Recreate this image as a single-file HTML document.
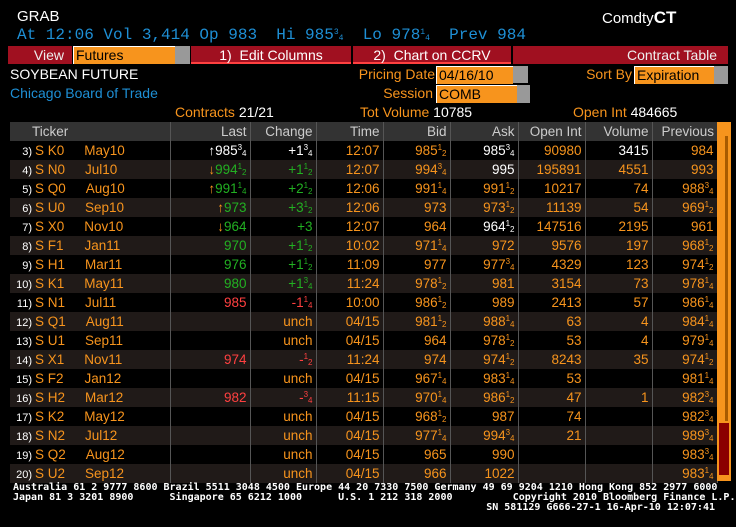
<!DOCTYPE html>
<html><head><meta charset="utf-8"><style>
*{margin:0;padding:0;box-sizing:border-box}
body{width:736px;height:527px;background:#000;overflow:hidden;position:relative;font-family:"Liberation Sans",sans-serif;font-size:13px;color:#f7941d}
.a{position:absolute;white-space:nowrap}
.w{color:#fff}.bl{color:#1e8fd5}.g{color:#22b022}.r{color:#ff4040}
i{font-style:normal;font-size:8px;vertical-align:5px}
b{font-weight:normal;font-size:8px;vertical-align:-1px}
.bar{position:absolute;top:46px;height:18px;background:#a01020;color:#eee;font-size:14px;line-height:18px}
.inp{position:absolute;background:#f7941d;color:#000;font-size:14px;line-height:17px;padding-left:2px;border-top:1px solid #fff;border-left:1px solid #fff}
.gr{position:absolute;background:#999}
table{position:absolute;left:10px;top:122px;border-collapse:collapse;table-layout:fixed;width:707px}
td,th{height:19px;padding:0 3px 0 0;text-align:right;font-size:13.5px;font-weight:normal;border-right:1px solid #555;white-space:nowrap;overflow:hidden}
th{background:#333;color:#ccc;font-size:13.5px}
tr:nth-child(odd) td{background:#201a18}
td.t{text-align:left;padding:0}
.n{display:inline-block;width:22px;text-align:right;color:#fff;font-size:11px;margin-right:3px}
.m{position:relative;left:0;display:inline-block;width:48px}
.ft{font-family:'DejaVu Sans Mono','Liberation Mono',monospace;font-size:10px;line-height:10px;white-space:pre;font-weight:bold}
</style></head><body>
<div class="a w" style="left:17px;top:8px;font-size:15px">GRAB</div>
<div class="a w" style="left:602px;top:8px;font-size:15px">Comdty<span style="font-weight:bold;font-size:17px">CT</span></div>
<div class="a bl" style="left:17px;top:26px;font-family:'Liberation Mono',monospace;font-size:16px;white-space:pre">At 12:06 Vol 3,414 Op 983  Hi 985<i>3</i><b>4</b>  Lo 978<i>1</i><b>4</b>  Prev 984</div>
<div class="bar" style="left:8px;width:64px;text-align:right;padding-right:8px">View</div>
<div class="inp" style="left:73px;top:46px;width:102px;height:18px">Futures</div>
<div class="gr" style="left:175px;top:46px;width:15px;height:18px"></div>
<div class="bar" style="left:191px;width:160px;text-align:center;border-bottom:2px solid #ff4040;color:#fff">1)&nbsp; Edit Columns</div>
<div class="bar" style="left:353px;width:158px;text-align:center;border-bottom:2px solid #ff4040;color:#fff">2)&nbsp; Chart on CCRV</div>
<div class="bar" style="left:513px;width:215px;text-align:right;padding-right:11px">Contract Table</div>
<div class="a w" style="left:10px;top:66px;font-size:14px">SOYBEAN FUTURE</div>
<div class="a bl" style="left:10px;top:85px;font-size:14px">Chicago Board of Trade</div>
<div class="a" style="right:301px;top:66px;font-size:14px">Pricing Date</div>
<div class="inp" style="left:436px;top:66px;width:77px;height:18px">04/16/10</div>
<div class="gr" style="left:513px;top:66px;width:15px;height:17px"></div>
<div class="a" style="right:303px;top:85px;font-size:14px">Session</div>
<div class="inp" style="left:436px;top:85px;width:81px;height:18px">COMB</div>
<div class="gr" style="left:517px;top:85px;width:13px;height:18px"></div>
<div class="a" style="right:104px;top:66px;font-size:14px">Sort By</div>
<div class="inp" style="left:634px;top:66px;width:80px;height:18px">Expiration</div>
<div class="gr" style="left:714px;top:66px;width:14px;height:18px"></div>
<div class="a" style="left:175px;top:104px;font-size:14px">Contracts <span class="w">21/21</span></div>
<div class="a" style="left:360px;top:104px;font-size:14px">Tot Volume <span class="w">10785</span></div>
<div class="a" style="left:573px;top:104px;font-size:14px">Open Int <span class="w">484665</span></div>

<table>
<colgroup><col style="width:160px"><col style="width:80px"><col style="width:66px"><col style="width:67px"><col style="width:67px"><col style="width:68px"><col style="width:67px"><col style="width:67px"><col style="width:65px"></colgroup>
<tr style="background:#333"><th style="text-align:left;padding-left:22px">Ticker</th><th>Last</th><th>Change</th><th>Time</th><th>Bid</th><th>Ask</th><th>Open Int</th><th>Volume</th><th style="border-right:none">Previous</th></tr>
<tr><td class="t"><span class="n">3)</span>S K0<span class="m" style="margin-left:20px">May10</span></td><td class="w">↑985<i>3</i><b>4</b></td><td class="w">+1<i>3</i><b>4</b></td><td>12:07</td><td>985<i>1</i><b>2</b></td><td class="w">985<i>3</i><b>4</b></td><td>90980</td><td class="w">3415</td><td>984</td></tr>
<tr><td class="t"><span class="n">4)</span>S N0<span class="m" style="margin-left:20px">Jul10</span></td><td class="g"><span style="color:#f7941d">↓</span>994<i>1</i><b>2</b></td><td class="g">+1<i>1</i><b>2</b></td><td>12:07</td><td>994<i>3</i><b>4</b></td><td class="w">995</td><td>195891</td><td>4551</td><td>993</td></tr>
<tr><td class="t"><span class="n">5)</span>S Q0<span class="m" style="margin-left:20px">Aug10</span></td><td class="g"><span style="color:#f7941d">↑</span>991<i>1</i><b>4</b></td><td class="g">+2<i>1</i><b>2</b></td><td>12:06</td><td>991<i>1</i><b>4</b></td><td>991<i>1</i><b>2</b></td><td>10217</td><td>74</td><td>988<i>3</i><b>4</b></td></tr>
<tr><td class="t"><span class="n">6)</span>S U0<span class="m" style="margin-left:20px">Sep10</span></td><td class="g"><span style="color:#f7941d">↑</span>973</td><td class="g">+3<i>1</i><b>2</b></td><td>12:06</td><td>973</td><td>973<i>1</i><b>2</b></td><td>11139</td><td>54</td><td>969<i>1</i><b>2</b></td></tr>
<tr><td class="t"><span class="n">7)</span>S X0<span class="m" style="margin-left:20px">Nov10</span></td><td class="g"><span style="color:#f7941d">↓</span>964</td><td class="g">+3</td><td>12:07</td><td>964</td><td class="w">964<i>1</i><b>2</b></td><td>147516</td><td>2195</td><td>961</td></tr>
<tr><td class="t"><span class="n">8)</span>S F1<span class="m" style="margin-left:21px">Jan11</span></td><td class="g">970</td><td class="g">+1<i>1</i><b>2</b></td><td>10:02</td><td>971<i>1</i><b>4</b></td><td>972</td><td>9576</td><td>197</td><td>968<i>1</i><b>2</b></td></tr>
<tr><td class="t"><span class="n">9)</span>S H1<span class="m" style="margin-left:20px">Mar11</span></td><td class="g">976</td><td class="g">+1<i>1</i><b>2</b></td><td>11:09</td><td>977</td><td>977<i>3</i><b>4</b></td><td>4329</td><td>123</td><td>974<i>1</i><b>2</b></td></tr>
<tr><td class="t"><span class="n">10)</span>S K1<span class="m" style="margin-left:20px">May11</span></td><td class="g">980</td><td class="g">+1<i>3</i><b>4</b></td><td>11:24</td><td>978<i>1</i><b>2</b></td><td>981</td><td>3154</td><td>73</td><td>978<i>1</i><b>4</b></td></tr>
<tr><td class="t"><span class="n">11)</span>S N1<span class="m" style="margin-left:20px">Jul11</span></td><td class="r">985</td><td class="r">-1<i>1</i><b>4</b></td><td>10:00</td><td>986<i>1</i><b>2</b></td><td>989</td><td>2413</td><td>57</td><td>986<i>1</i><b>4</b></td></tr>
<tr><td class="t"><span class="n">12)</span>S Q1<span class="m" style="margin-left:20px">Aug11</span></td><td></td><td>unch</td><td>04/15</td><td>981<i>1</i><b>2</b></td><td>988<i>1</i><b>4</b></td><td>63</td><td>4</td><td>984<i>1</i><b>4</b></td></tr>
<tr><td class="t"><span class="n">13)</span>S U1<span class="m" style="margin-left:20px">Sep11</span></td><td></td><td>unch</td><td>04/15</td><td>964</td><td>978<i>1</i><b>2</b></td><td>53</td><td>4</td><td>979<i>1</i><b>4</b></td></tr>
<tr><td class="t"><span class="n">14)</span>S X1<span class="m" style="margin-left:20px">Nov11</span></td><td class="r">974</td><td class="r">-<i>1</i><b>2</b></td><td>11:24</td><td>974</td><td>974<i>1</i><b>2</b></td><td>8243</td><td>35</td><td>974<i>1</i><b>2</b></td></tr>
<tr><td class="t"><span class="n">15)</span>S F2<span class="m" style="margin-left:21px">Jan12</span></td><td></td><td>unch</td><td>04/15</td><td>967<i>1</i><b>4</b></td><td>983<i>1</i><b>4</b></td><td>53</td><td></td><td>981<i>1</i><b>4</b></td></tr>
<tr><td class="t"><span class="n">16)</span>S H2<span class="m" style="margin-left:20px">Mar12</span></td><td class="r">982</td><td class="r">-<i>3</i><b>4</b></td><td>11:15</td><td>970<i>1</i><b>4</b></td><td>986<i>1</i><b>2</b></td><td>47</td><td>1</td><td>982<i>3</i><b>4</b></td></tr>
<tr><td class="t"><span class="n">17)</span>S K2<span class="m" style="margin-left:20px">May12</span></td><td></td><td>unch</td><td>04/15</td><td>968<i>1</i><b>2</b></td><td>987</td><td>74</td><td></td><td>982<i>3</i><b>4</b></td></tr>
<tr><td class="t"><span class="n">18)</span>S N2<span class="m" style="margin-left:20px">Jul12</span></td><td></td><td>unch</td><td>04/15</td><td>977<i>1</i><b>4</b></td><td>994<i>3</i><b>4</b></td><td>21</td><td></td><td>989<i>3</i><b>4</b></td></tr>
<tr><td class="t"><span class="n">19)</span>S Q2<span class="m" style="margin-left:20px">Aug12</span></td><td></td><td>unch</td><td>04/15</td><td>965</td><td>990</td><td></td><td></td><td>983<i>3</i><b>4</b></td></tr>
<tr><td class="t"><span class="n">20)</span>S U2<span class="m" style="margin-left:20px">Sep12</span></td><td></td><td>unch</td><td>04/15</td><td>966</td><td>1022</td><td></td><td></td><td>983<i>1</i><b>4</b></td></tr>
</table>
<div class="a" style="left:717px;top:122px;width:14px;height:359px;background:#f7941d"></div>
<div class="a" style="left:725px;top:136px;width:3px;height:285px;background:#a85a00"></div>
<div class="a" style="left:719px;top:423px;width:10px;height:52px;background:#8b0000"></div>
<div class="a w ft" style="left:13px;top:483px">Australia 61 2 9777 8600 Brazil 5511 3048 4500 Europe 44 20 7330 7500 Germany 49 69 9204 1210 Hong Kong 852 2977 6000
Japan 81 3 3201 8900      Singapore 65 6212 1000      U.S. 1 212 318 2000          Copyright 2010 Bloomberg Finance L.P.</div>
<div class="a w ft" style="right:21px;top:503px">SN 581129 G666-27-1 16-Apr-10 12:07:41</div>
</body></html>
